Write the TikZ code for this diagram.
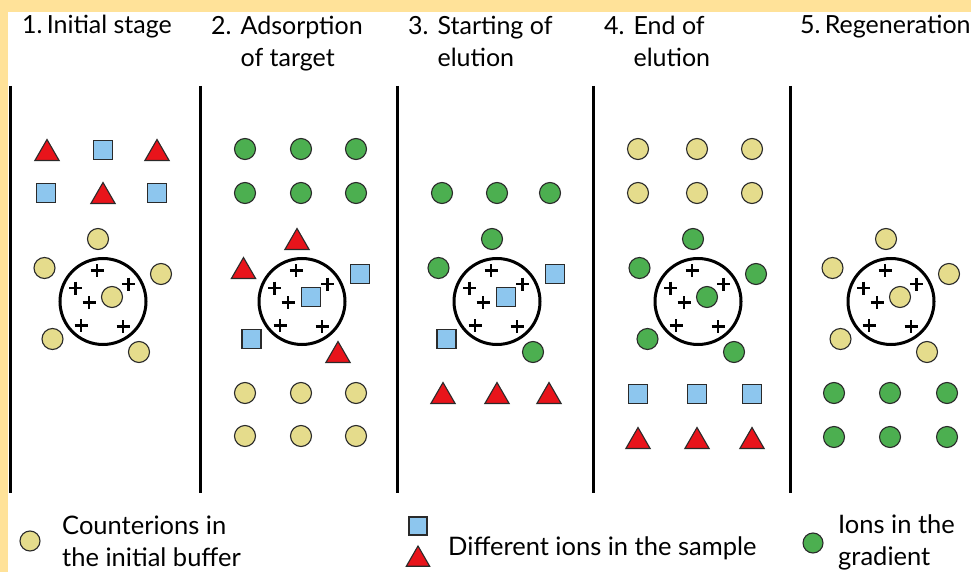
\documentclass[tikz,border=0pt]{standalone}
\usepackage{fontspec}
\setmainfont{Lato}
\usetikzlibrary{shapes.geometric}
\definecolor{bgyellow}{HTML}{FFE299}
\definecolor{cyel}{HTML}{E5DC8C}
\definecolor{cgreen}{HTML}{4CAF50}
\definecolor{cblue}{HTML}{8DC6EE}
\definecolor{cred}{HTML}{E8141B}
\definecolor{edgec}{HTML}{2A2A2A}
\newcommand\ringset[8]{%
  \node[ring] (#2ring) at (#1,301.5) {};
  \foreach \dx/\dy in {-6/-31,-27.5/-13.5,25.5/-17.5,-14/1,-22/24,20/25}
    {\draw[plusmark] (#1+\dx-6.5,301.5+\dy) -- ++(13,0) (#1+\dx,301.5+\dy-6.5) -- ++(0,13);}
  \node[#3] (#2t) at (#1-5,239) {};
  \node[#4] (#2l) at (#1-58.5,268) {};
  \node[#5] (#2r) at (#1+58,274) {};
  \node[#6] (#2c) at (#1+9,297) {};
  \node[#7] (#2bl) at (#1-50.5,339) {};
  \node[#8] (#2br) at (#1+36,352) {};
}
\begin{document}
\begin{tikzpicture}[x=1pt,y=-1pt,
  yel/.style={circle,draw=edgec,fill=cyel,line width=1.1pt,minimum size=21pt,inner sep=0pt},
  grn/.style={circle,draw=edgec,fill=cgreen,line width=1.1pt,minimum size=21pt,inner sep=0pt},
  sqr/.style={rectangle,draw=edgec,fill=cblue,line width=1.1pt,minimum size=19pt,inner sep=0pt},
  tri/.style={regular polygon,regular polygon sides=3,draw=edgec,fill=cred,line width=1.1pt,minimum size=28pt,inner sep=0pt,yshift=-3.5pt},
  ring/.style={circle,draw=black,line width=3pt,minimum size=86pt,inner sep=0pt},
  plusmark/.style={line width=2.6pt,black},
  divider/.style={line width=3pt,black},
  head/.style={anchor=base west,inner sep=0pt,font=\fontsize{25}{32}\selectfont},
  legend/.style={anchor=base west,inner sep=0pt,font=\fontsize{25.5}{31}\selectfont}]
\useasboundingbox (0,0) rectangle (971,572);
\fill[bgyellow] (0,0) rectangle (971,572);
\fill[white] (8,12) rectangle (971,572);
% dividers
\foreach \x/\n in {10/a,200/b,397/c,593/d,790/e}{
  \coordinate (top\n) at (\x,86);
  \coordinate (bot\n) at (\x,493);
  \draw[divider] (top\n) -- (bot\n);
}
% headers
\node[head] (h1) at (22,34) {1.\,Initial stage};
\node[head] (h2) at (211,35) {\begin{tabular}[t]{@{}l@{\hspace{9pt}}l@{}}2. & Adsorption\\ & of target\end{tabular}};
\node[head] (h3) at (408,35) {\begin{tabular}[t]{@{}l@{\hspace{9pt}}l@{}}3. & Starting of\\ & elution\end{tabular}};
\node[head] (h4) at (604,35) {\begin{tabular}[t]{@{}l@{\hspace{9pt}}l@{}}4. & End of\\ & elution\end{tabular}};
\node[head] (h5) at (800,34) {5.\,Regeneration};
% panel 1
\node[tri] (p1a) at (47,150) {};
\node[sqr] (p1b) at (103,150) {};
\node[tri] (p1c) at (157,150) {};
\node[sqr] (p1d) at (46,193) {};
\node[tri] (p1e) at (103,193) {};
\node[sqr] (p1f) at (157,193) {};
\ringset{103}{p1}{yel}{yel}{yel}{yel}{yel}{yel}
% panel 2
\foreach \x [count=\i] in {245,301,356}{
  \node[grn] (p2g\i) at (\x,149) {};
  \node[grn] (p2h\i) at (\x,193) {};
  \node[yel] (p2y\i) at (\x,393) {};
  \node[yel] (p2z\i) at (\x,436) {};
}
\ringset{302}{p2}{tri}{tri}{sqr}{sqr}{sqr}{tri}
% panel 3
\foreach \x/\xt [count=\i] in {442/443,497/497,550/549}{
  \node[grn] (p3g\i) at (\x,193) {};
  \node[tri] (p3t\i) at (\xt,393) {};
}
\ringset{497}{p3}{grn}{grn}{sqr}{sqr}{sqr}{grn}
% panel 4
\foreach \x [count=\i] in {638,697,752}{
  \node[yel] (p4y\i) at (\x,149) {};
  \node[yel] (p4z\i) at (\x,193) {};
  \node[sqr] (p4s\i) at (\x,394) {};
  \node[tri] (p4t\i) at (\x,438) {};
}
\ringset{698}{p4}{grn}{grn}{grn}{grn}{grn}{grn}
% panel 5
\foreach \x [count=\i] in {834,890,947}{
  \node[grn] (p5g\i) at (\x,393) {};
  \node[grn] (p5h\i) at (\x,437) {};
}
\ringset{891}{p5}{yel}{yel}{yel}{yel}{yel}{yel}
% legend
\node[yel,minimum size=20pt] (lg1) at (30,541) {};
\node[legend] (lt1a) at (62,534) {Counterions in};
\node[legend] (lt1b) at (62,566) {the initial buffer};
\node[sqr,minimum size=18pt] (lg2) at (418,526) {};
\node[tri,minimum size=27pt] (lg3) at (418,556) {};
\node[legend] (lt2) at (448,555) {Different ions in the sample};
\node[grn,minimum size=20pt] (lg4) at (813,543) {};
\node[legend] (lt3a) at (838,533) {Ions in the};
\node[legend] (lt3b) at (838,565) {gradient};
\end{tikzpicture}
\end{document}
